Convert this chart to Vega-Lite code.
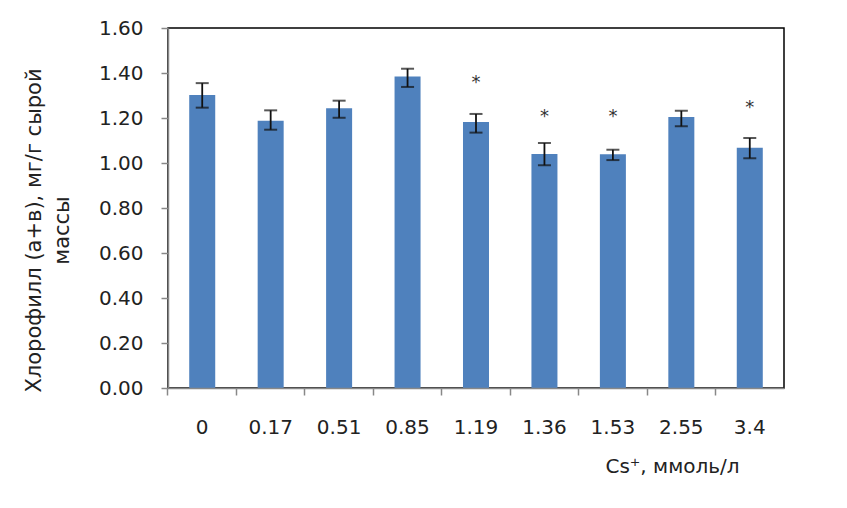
{
  "$schema": "https://vega.github.io/schema/vega-lite/v6.json",
  "autosize": {"type": "none"},
  "width": 616,
  "height": 360,
  "padding": {"left": 168, "top": 28, "right": 63, "bottom": 120},
  "background": "white",
  "config": {
    "view": {"stroke": "black", "strokeWidth": 1.5},
    "font": "DejaVu Sans"
  },
  "data": {
    "values": [
      {"c": "0", "mean": 1.302, "lo": 1.246, "hi": 1.355, "star": null},
      {"c": "0.17", "mean": 1.188, "lo": 1.148, "hi": 1.234, "star": null},
      {"c": "0.51", "mean": 1.243, "lo": 1.201, "hi": 1.277, "star": null},
      {"c": "0.85", "mean": 1.384, "lo": 1.338, "hi": 1.419, "star": null},
      {"c": "1.19", "mean": 1.182, "lo": 1.135, "hi": 1.218, "star": 1.378},
      {"c": "1.36", "mean": 1.040, "lo": 0.990, "hi": 1.089, "star": 1.228},
      {"c": "1.53", "mean": 1.039, "lo": 1.013, "hi": 1.059, "star": 1.228},
      {"c": "2.55", "mean": 1.204, "lo": 1.163, "hi": 1.232, "star": null},
      {"c": "3.4", "mean": 1.068, "lo": 1.021, "hi": 1.111, "star": 1.268}
    ]
  },
  "encoding": {
    "x": {
      "field": "c",
      "type": "ordinal",
      "sort": null,
      "scale": {"paddingInner": 0.62, "paddingOuter": 0.31},
      "axis": {
        "title": "Cs⁺, ммоль/л",
        "titleFontSize": 20,
        "titleFontWeight": "normal",
        "titleColor": "#222",
        "titleX": 504,
        "titleY": 84,
        "titleAlign": "center",
        "titleBaseline": "alphabetic",
        "labelAngle": 0,
        "labelFontSize": 20,
        "labelColor": "#222",
        "labelBaseline": "alphabetic",
        "labelPadding": 38,
        "bandPosition": -0.817,
        "tickSize": 7,
        "tickColor": "#888",
        "tickWidth": 1.5,
        "domainColor": "#888",
        "domainWidth": 1.5,
        "zindex": 1
      }
    }
  },
  "layer": [
    {
      "mark": {"type": "bar", "color": "#4f81bd"},
      "encoding": {
        "y": {
          "field": "mean",
          "type": "quantitative",
          "scale": {"domain": [0, 1.6], "nice": false},
          "axis": {
            "values": [0, 0.2, 0.4, 0.6, 0.8, 1.0, 1.2, 1.4, 1.6],
            "format": ".2f",
            "grid": false,
            "title": ["Хлорофилл (а+в), мг/г сырой", "массы"],
            "titleFontSize": 21,
            "titleFontWeight": "normal",
            "titleColor": "#222",
            "titleAngle": -90,
            "titleX": -128,
            "titleY": 202,
            "titleAlign": "center",
            "titleBaseline": "alphabetic",
            "titleLineHeight": 28,
            "labelFontSize": 20,
            "labelColor": "#222",
            "labelPadding": 18,
            "tickSize": 7,
            "tickColor": "#888",
            "tickWidth": 1.5,
            "domainColor": "#888",
            "domainWidth": 1.5,
            "zindex": 1
          }
        }
      }
    },
    {
      "mark": {"type": "rule", "color": "#111", "strokeWidth": 1.8},
      "encoding": {
        "y": {"field": "lo", "type": "quantitative"},
        "y2": {"field": "hi"}
      }
    },
    {
      "mark": {"type": "tick", "color": "#111", "thickness": 2, "size": 13, "orient": "horizontal"},
      "encoding": {"y": {"field": "lo", "type": "quantitative"}}
    },
    {
      "mark": {"type": "tick", "color": "#111", "thickness": 2, "size": 13, "orient": "horizontal"},
      "encoding": {"y": {"field": "hi", "type": "quantitative"}}
    },
    {
      "transform": [{"filter": "datum.star != null"}],
      "mark": {"type": "text", "text": "*", "fontSize": 18, "color": "#333", "baseline": "alphabetic", "dy": 10},
      "encoding": {"y": {"field": "star", "type": "quantitative"}}
    }
  ]
}
